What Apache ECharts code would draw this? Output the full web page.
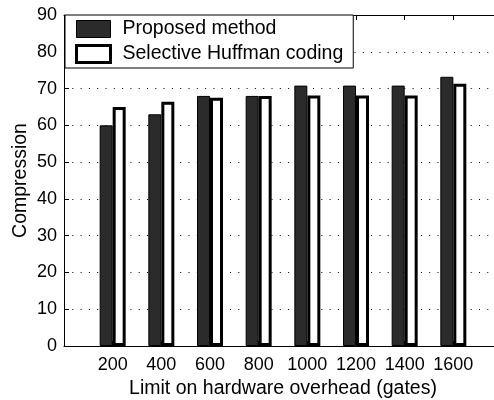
<!DOCTYPE html>
<html>
<head>
<meta charset="utf-8">
<script src="https://cdn.jsdelivr.net/npm/echarts@6/dist/echarts.min.js"></script>
<style>
html,body{margin:0;padding:0;background:#fff;}
#chart{width:494px;height:400px;}
</style>
</head>
<body>
<div id="chart"></div>
<script>
var categories = [200, 400, 600, 800, 1000, 1200, 1400, 1600];
var proposedValues = [60, 63, 68, 68, 70.8, 70.8, 70.8, 73.2];
var huffmanValues = [65, 66.4, 67.5, 68, 68.1, 68.1, 68.1, 71.3];
var yTicks = [0, 10, 20, 30, 40, 50, 60, 70, 80, 90];
var seriesNames = ['Proposed method', 'Selective Huffman coding'];

function pairs(vals) {
  return categories.map(function (c, i) { return [c, vals[i]]; });
}

var FONT = 'Liberation Sans, Arial, Helvetica, sans-serif';
var chart = echarts.init(document.getElementById('chart'), null, {renderer: 'canvas'});
chart.setOption({
  animation: false,
  backgroundColor: '#fff',
  textStyle: {fontFamily: FONT, color: '#000'},
  grid: {left: 64, top: 15, width: 438, height: 331, containLabel: false, outerBoundsMode: 'none'},
  legend: {
    orient: 'vertical',
    left: 65,
    top: 15,
    padding: [4, 10, 4, 10],
    itemGap: 5,
    itemWidth: 34,
    itemHeight: 17,
    backgroundColor: '#fff',
    borderColor: '#000',
    borderWidth: 1,
    borderRadius: 0,
    textStyle: {fontFamily: FONT, fontSize: 19.5, color: '#000', padding: [0, 0, 0, 7]},
    data: [
      {name: seriesNames[0], icon: 'rect', itemStyle: {color: '#2b2b2b', borderColor: '#000', borderWidth: 1}},
      {name: seriesNames[1], icon: 'rect', itemStyle: {color: '#fff', borderColor: '#000', borderWidth: 3}}
    ]
  },
  xAxis: [
    {
      type: 'value', position: 'bottom', min: 0, max: 1800, interval: 200,
      axisLine: {show: true, lineStyle: {color: '#000', width: 1}},
      axisTick: {show: true, inside: true, length: 5, lineStyle: {color: '#000'}},
      axisLabel: {
        fontFamily: FONT, fontSize: 18, color: '#000', margin: 10,
        formatter: function (v) { return categories.indexOf(v) >= 0 ? String(v) : ''; }
      },
      splitLine: {show: false},
      name: 'Limit on hardware overhead (gates)',
      nameLocation: 'middle',
      nameGap: 33,
      nameTextStyle: {fontFamily: FONT, fontSize: 19.5, color: '#000'}
    },
    {
      type: 'value', position: 'top', min: 0, max: 1800, interval: 200,
      axisLine: {show: true, lineStyle: {color: '#000', width: 1}},
      axisTick: {show: true, inside: true, length: 5, lineStyle: {color: '#000'}},
      axisLabel: {show: false},
      splitLine: {show: false}
    }
  ],
  yAxis: {
    type: 'value', min: yTicks[0], max: yTicks[yTicks.length - 1], interval: 10,
    axisLine: {show: true, lineStyle: {color: '#000', width: 1}},
    axisTick: {show: true, inside: true, length: 5, lineStyle: {color: '#000'}},
    axisLabel: {fontFamily: FONT, fontSize: 18, color: '#000', margin: 7},
    splitLine: {show: true, lineStyle: {color: '#000', width: 1, type: [1, 7.3]}},
    name: 'Compression',
    nameLocation: 'middle',
    nameGap: 33,
    nameMoveOverlap: false,
    nameTextStyle: {fontFamily: FONT, fontSize: 19.5, color: '#000'}
  },
  series: [
    {
      name: seriesNames[0], type: 'bar', xAxisIndex: 0,
      data: pairs(proposedValues),
      barWidth: 13, barGap: '0%',
      itemStyle: {color: '#2b2b2b', borderColor: '#000', borderWidth: 1}
    },
    {
      name: seriesNames[1], type: 'bar', xAxisIndex: 0,
      data: pairs(huffmanValues),
      barWidth: 13, barGap: '0%',
      itemStyle: {color: '#fff', borderColor: '#000', borderWidth: 3}
    }
  ]
});
</script>
</body>
</html>
